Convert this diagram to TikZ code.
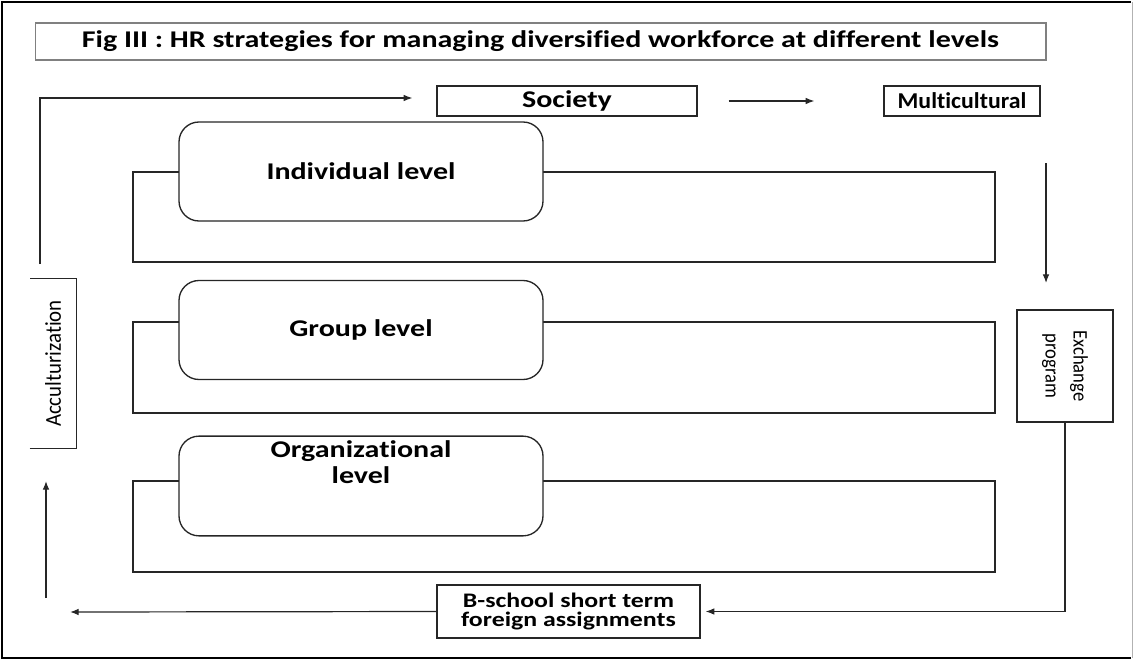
\documentclass[tikz,border=0pt]{standalone}
\usepackage{fontspec}
\setmainfont{Carlito}[Ligatures=NoCommon]
\newfontfamily\widefont[FakeStretch=1.25,Ligatures=NoCommon]{Carlito}
\newfontfamily\narrowfont[FakeStretch=1.05,Ligatures=NoCommon]{Carlito}
\newfontfamily\accfont[FakeStretch=0.92,Ligatures=NoCommon]{Carlito}
\newfontfamily\exchfont[FakeStretch=0.9,Ligatures=NoCommon]{Carlito}
\usetikzlibrary{arrows.meta,calc}
\tikzset{
  plain box/.style={
    draw=black!85,
    line width=1pt,
    fill=white,
    inner sep=0pt,
    font=\widefont\bfseries\fontsize{18}{20}\selectfont,
    minimum width={#1},
    minimum height={22.5pt},
  },
  level box/.style={
    draw=black!85,
    line width=1pt,
    fill=white,
    rounded corners=15pt,
    minimum width={273pt},
    minimum height={74.25pt},
    align=center,
    font=\widefont\bfseries\fontsize{18}{19.5}\selectfont,
  },
  back frame/.style={
    draw=black!85,
    line width=1pt,
  },
  side box/.style={
    inner sep=0pt,
    align=center,
  },
  link/.style={
    -{Latex[length=6.5pt,width=5pt]},
    line width=0.9pt,
    draw=black!85,
  }
}

\begin{document}
\begin{tikzpicture}[x=0.75pt,y=-0.75pt]
        \useasboundingbox (0,0) rectangle (1134,660);
        \draw [line width=2.2pt] (1131,2) -- (2,2) -- (2,658) -- (1131,658);
        \draw [gray!60, line width=0.6pt] (1132,2) -- (1132,658);

        \node [plain box=758pt, draw=gray, minimum height=27.75pt] (title) at (540.5,41.5)
          {Fig III : HR strategies for managing diversified workforce at different levels};
        \node [plain box=195pt] (soc) at (567,101) {Society};
        \node [plain box=117pt, font=\narrowfont\bfseries\fontsize{17}{19}\selectfont] (multi) at (962,101) {Multicultural};

        \draw [back frame] (133,172) rectangle (995,262);
        \draw [back frame] (133,322) rectangle (995,413);
        \draw [back frame] (133,481) rectangle (995,572);

        \node [level box] (ind) at (361,171.5) {Individual level};
        \node [level box] (grp) at (361,330) {Group level};
        \node [level box, text depth=36pt] (org) at (361,486) {Organizational\\level};

        \node [side box, rotate=90, minimum width=126.75pt, minimum height=34.5pt,
               font=\accfont\fontsize{17}{19}\selectfont] (acc) at (53,363.5)
          {Acculturization};
        \draw [back frame] (acc.north west) -- (acc.south west) -- (acc.south east) -- (acc.north east);
        \node [side box, rotate=-90, draw=black!85, line width=1pt, minimum width=84pt, minimum height=72pt,
               font=\exchfont\fontsize{15.5}{21}\selectfont] (exch) at (1065,366)
          {Exchange\\program};
        \node [plain box=197.25pt, minimum height=39.75pt, align=center,
               font=\widefont\bfseries\fontsize{15.5}{14.5}\selectfont] (bsch) at (568.5,611.5)
          {B-school short term\\foreign assignments};

        \coordinate (up top) at (40,264);
        \coordinate (down top) at (1046,163);
        \coordinate (down end) at (1046,283);
        \coordinate (left end) at (70,612);
        \coordinate (up bottom) at (46,598);
        \coordinate (up end) at (46,481);

        \draw [link] (up top) |- ($(soc.west)+(-24,-3)$);
        \draw [link] ($(soc.east)+(31,0)$) -- ($(multi.west)+(-69,0)$);
        \draw [link] (down top) -- (down end);
        \draw [link] (exch.east) |- ($(bsch.east)+(5,0)$);
        \draw [link] (bsch.west) -- (left end);
        \draw [link] (up bottom) -- (up end);
      \end{tikzpicture}
\end{document}
